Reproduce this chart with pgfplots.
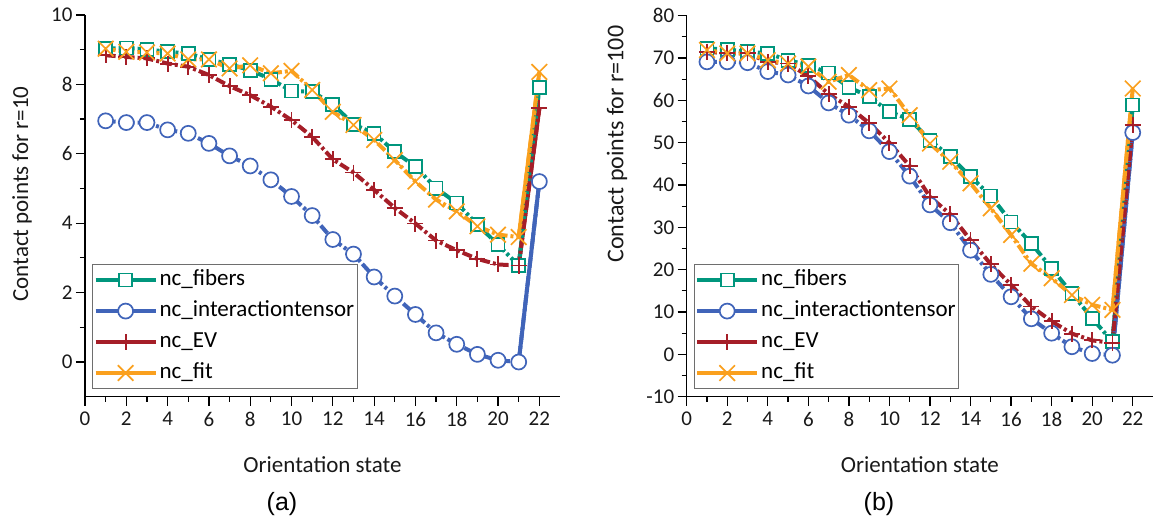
\documentclass[border=0pt]{standalone}
\usepackage{pgfplots}
\pgfplotsset{compat=1.18}
\usepackage{fontspec}
\setmainfont{Carlito}
\newfontfamily\arialfont{Liberation Sans}

\definecolor{cfib}{RGB}{0,150,125}
\definecolor{cint}{RGB}{64,100,185}
\definecolor{cev}{RGB}{165,30,40}
\definecolor{cfit}{RGB}{250,160,30}
\definecolor{legdraw}{RGB}{110,110,110}

\pgfplotsset{
  myax/.style={
    scale only axis,
    xmin=0, xmax=23,
    axis x line*=bottom, axis y line*=left,
    xtick={0,2,...,22}, minor x tick num=1,
    minor y tick num=1,
    tick align=outside,
    major tick length=9bp, minor tick length=5bp,
    every tick/.style={line width=1.2bp, black},
    axis line style={line width=1.2bp, black},
    tick label style={font=\fontsize{21bp}{25bp}\selectfont, color=black!90},
    xticklabel style={font=\fontsize{21bp}{25bp}\selectfont, yshift=-3bp},
    yticklabel style={font=\fontsize{21bp}{25bp}\selectfont},
    label style={font=\fontsize{23bp}{27bp}\selectfont, color=black!90},
    /pgf/number format/assume math mode=true,
    clip=false,
    legend cell align=left,
    legend image code/.code={
      \draw[mark repeat=2,mark phase=2,#1,solid] plot coordinates {(0bp,0bp) (30bp,0bp) (60bp,0bp)};
    },
    legend style={
      at={(axis description cs:0.015,0.02)}, anchor=south west,
      draw=legdraw, line width=1bp,
      inner xsep=1bp, inner ysep=2bp,
      row sep=4bp,
      font=\fontsize{23bp}{27bp}\selectfont,
      nodes={inner sep=2bp, text height=17bp, text depth=6bp},
    },
  },
  basel/.style={line width=4bp, dash pattern=on 10bp off 3bp on 3bp off 3bp},
  sfib/.style={basel, color=cfib, mark=square*, mark size=6.5bp, mark options={solid, fill=white, line width=1.7bp}},
  sint/.style={basel, color=cint, mark=*, mark size=7.5bp, mark options={solid, fill=white, line width=1.7bp}},
  sev/.style={basel, color=cev, mark=+, mark size=8bp, mark options={solid, line width=1.9bp}},
  sfit/.style={basel, color=cfit, mark=x, mark size=11bp, mark options={solid, line width=1.7bp}},
  seg/.style={forget plot, line width=4bp, solid, no marks},
}

\begin{document}
\begin{tikzpicture}
\useasboundingbox (0,0) rectangle (1159bp,520bp);

\begin{axis}[myax,
  at={(85bp,123.3bp)}, anchor=south west,
  width=475bp, height=381.7bp,
  ymin=-1, ymax=10, ytick={0,2,...,10},
  xlabel={Orientation state},
  ylabel={Contact points for r=10},
  xlabel style={at={(axis description cs:0.5,-0.178)}, anchor=center},
  ylabel style={at={(axis description cs:-0.1326,0.531)}, anchor=center, rotate=0},
]
\addplot[seg, cfib] coordinates {(21,2.78) (22,7.91)};
\addplot[seg, cint] coordinates {(21,0.00) (22,5.20)};
\addplot[seg, cev] coordinates {(21,2.78) (22,7.31)};
\addplot[seg, cfit] coordinates {(21,3.60) (22,8.36)};
\addplot[sfib] coordinates {
(1,9.03) (2,9.05) (3,9.01) (4,8.94) (5,8.89) (6,8.72) (7,8.58) (8,8.41) (9,8.15) (10,7.81) (11,7.79)
(12,7.43) (13,6.85) (14,6.59) (15,6.06) (16,5.63) (17,5.01) (18,4.58) (19,3.96) (20,3.38) (21,2.78) (22,7.91)};
\addplot[sint] coordinates {
(1,6.95) (2,6.90) (3,6.90) (4,6.69) (5,6.59) (6,6.30) (7,5.94) (8,5.65) (9,5.25) (10,4.77) (11,4.22)
(12,3.53) (13,3.11) (14,2.45) (15,1.90) (16,1.37) (17,0.84) (18,0.51) (19,0.22) (20,0.05) (21,0.00) (22,5.20)};
\addplot[sev] coordinates {
(1,8.84) (2,8.79) (3,8.75) (4,8.60) (5,8.51) (6,8.27) (7,7.95) (8,7.69) (9,7.36) (10,6.97) (11,6.49)
(12,5.84) (13,5.46) (14,4.96) (15,4.44) (16,3.99) (17,3.50) (18,3.22) (19,2.97) (20,2.81) (21,2.78) (22,7.31)};
\addplot[sfit] coordinates {
(1,9.03) (2,8.94) (3,8.92) (4,8.89) (5,8.72) (6,8.72) (7,8.46) (8,8.55) (9,8.32) (10,8.39) (11,7.84)
(12,7.21) (13,6.83) (14,6.40) (15,5.82) (16,5.20) (17,4.68) (18,4.34) (19,3.91) (20,3.67) (21,3.60) (22,8.36)};
\legend{nc\_fibers, nc\_interactiontensor, nc\_EV, nc\_fit}
\end{axis}

\begin{axis}[myax,
  at={(686.7bp,123.3bp)}, anchor=south west,
  width=466.3bp, height=381bp,
  ymin=-10, ymax=80, ytick={-10,0,...,80},
  xlabel={Orientation state},
  ylabel={Contact points for r=100},
  xlabel style={at={(axis description cs:0.5,-0.178)}, anchor=center},
  ylabel style={at={(axis description cs:-0.1495,0.663)}, anchor=center, rotate=0, font=\fontsize{24bp}{28bp}\selectfont},
]
\addplot[seg, cfib] coordinates {(21,3.0) (22,58.9)};
\addplot[seg, cint] coordinates {(21,-0.2) (22,52.4)};
\addplot[seg, cev] coordinates {(21,2.7) (22,54.2)};
\addplot[seg, cfit] coordinates {(21,10.5) (22,62.8)};
\addplot[sfib] coordinates {
(1,72.3) (2,72.0) (3,71.5) (4,71.1) (5,69.5) (6,68.3) (7,66.5) (8,63.1) (9,60.9) (10,57.3) (11,55.5)
(12,50.6) (13,46.7) (14,42.0) (15,37.4) (16,31.3) (17,26.2) (18,20.3) (19,14.4) (20,8.5) (21,3.0) (22,58.9)};
\addplot[sint] coordinates {
(1,69.1) (2,69.1) (3,68.9) (4,66.8) (5,66.0) (6,63.4) (7,59.4) (8,56.5) (9,52.8) (10,47.9) (11,42.1)
(12,35.3) (13,31.1) (14,24.6) (15,18.9) (16,13.6) (17,8.4) (18,5.0) (19,1.8) (20,0.2) (21,-0.2) (22,52.4)};
\addplot[sev] coordinates {
(1,71.5) (2,71.1) (3,71.1) (4,69.1) (5,68.7) (6,65.7) (7,61.5) (8,58.5) (9,54.6) (10,50.0) (11,44.5)
(12,37.2) (13,33.1) (14,27.0) (15,21.3) (16,16.4) (17,11.3) (18,7.8) (19,4.9) (20,3.3) (21,2.7) (22,54.2)};
\addplot[sfit] coordinates {
(1,71.9) (2,71.1) (3,71.1) (4,69.5) (5,68.7) (6,68.0) (7,64.4) (8,66.0) (9,62.4) (10,62.8) (11,56.5)
(12,49.8) (13,45.5) (14,40.4) (15,34.5) (16,28.2) (17,21.4) (18,18.0) (19,14.0) (20,11.7) (21,10.5) (22,62.8)};
\legend{nc\_fibers, nc\_interactiontensor, nc\_EV, nc\_fit}
\end{axis}

\node[font=\arialfont\fontsize{25bp}{30bp}\selectfont] at (282bp,16bp) {(a)};
\node[font=\arialfont\fontsize{25bp}{30bp}\selectfont] at (879bp,16bp) {(b)};
\end{tikzpicture}
\end{document}
